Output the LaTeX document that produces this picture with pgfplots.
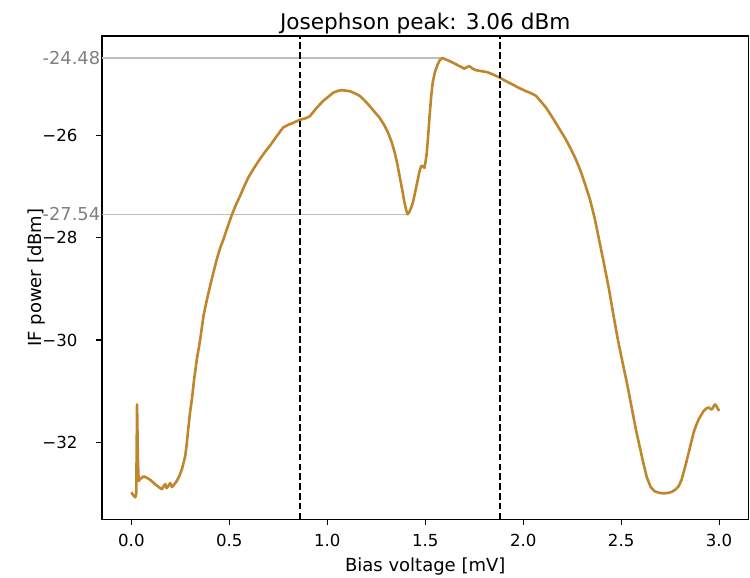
\documentclass[border=0pt]{standalone}
\usepackage{pgfplots}
\pgfplotsset{compat=1.18}
\usepackage{fontspec}
\setmainfont{DejaVu Sans}
\definecolor{curve}{RGB}{192,134,44}
\definecolor{hgray}{RGB}{190,190,190}
\definecolor{lgray}{RGB}{128,128,128}
\begin{document}
\begin{tikzpicture}
\begin{axis}[
  name=ax,
  scale only axis,
  width=323.25pt, height=241.65pt,
  xmin=-0.15, xmax=3.15,
  ymin=-33.51, ymax=-24.05,
  axis line style={line width=0.6pt},
  tick style={line width=0.6pt, black},
  tick align=outside,
  major tick length=2.75pt,
  xtick={0,0.5,1,1.5,2,2.5,3},
  xticklabels={0.0,0.5,1.0,1.5,2.0,2.5,3.0},
  ytick={-32,-30,-28,-26},
  yticklabels={−32,−30,−28,−26},
  extra y ticks={-24.48,-27.54},
  extra y tick labels={{\fontsize{8.9pt}{10pt}\selectfont -24.48\kern-11.35pt},{\fontsize{8.9pt}{10pt}\selectfont -27.54\kern-11.35pt}},
  extra y tick style={tick style={draw=none}, yticklabel style={text=lgray}},
  xtick pos=bottom, ytick pos=left,
  /pgf/number format/assume math mode=true,
  every tick label/.append style={font=\fontsize{8.3pt}{10pt}\selectfont},
  xticklabel style={anchor=base, yshift=-10.7pt},
  yticklabel style={anchor=east, inner sep=0pt, xshift=-9.35pt},
  title={Josephson peak: 3.06 dBm},
  title style={at={(axis description cs:0.5,1)}, anchor=base, inner sep=0pt, yshift=-3pt, font=\fontsize{10.8pt}{13pt}\selectfont},
  xlabel={Bias voltage [mV]},
  xlabel style={at={(axis description cs:0.5,-0.1084)}, anchor=base, font=\fontsize{9pt}{11pt}\selectfont},
  ylabel={IF power [dBm]},
  ylabel style={at={(axis description cs:-0.0933,0.5)}, anchor=base, rotate=0, font=\fontsize{9pt}{11pt}\selectfont},
]
\addplot[hgray, line width=0.7pt] coordinates {(-0.15,-24.48) (1.589,-24.48)};
\addplot[hgray, line width=0.7pt] coordinates {(-0.15,-27.54) (1.410,-27.54)};
\addplot[curve, line width=1.3pt, line join=round] coordinates {
(0.000,-32.98) (0.006,-33.02) (0.012,-33.05) (0.020,-33.08) (0.025,-33.00)
(0.029,-31.26) (0.033,-32.30) (0.037,-32.76) (0.045,-32.72) (0.063,-32.67)
(0.080,-32.70) (0.097,-32.74) (0.120,-32.82) (0.140,-32.88) (0.156,-32.92)
(0.165,-32.86) (0.173,-32.82) (0.180,-32.90) (0.190,-32.85) (0.198,-32.80)
(0.207,-32.88) (0.220,-32.82) (0.232,-32.76) (0.245,-32.66) (0.258,-32.53)
(0.268,-32.38) (0.275,-32.27) (0.283,-32.02) (0.290,-31.75) (0.300,-31.40)
(0.309,-31.16) (0.320,-30.78) (0.334,-30.38) (0.351,-30.00) (0.368,-29.53)
(0.385,-29.22) (0.402,-28.94) (0.420,-28.66) (0.436,-28.42) (0.453,-28.20)
(0.470,-28.03) (0.490,-27.80) (0.512,-27.56) (0.533,-27.36) (0.555,-27.18)
(0.575,-27.00) (0.597,-26.82) (0.625,-26.64) (0.656,-26.46) (0.680,-26.33)
(0.707,-26.20) (0.740,-26.02) (0.775,-25.84) (0.800,-25.79) (0.826,-25.75)
(0.860,-25.69) (0.890,-25.66) (0.911,-25.62) (0.945,-25.46) (0.979,-25.32)
(1.005,-25.24) (1.030,-25.16) (1.050,-25.13) (1.072,-25.11) (1.095,-25.12)
(1.115,-25.13) (1.140,-25.17) (1.165,-25.22) (1.190,-25.31) (1.216,-25.42)
(1.240,-25.53) (1.267,-25.65) (1.290,-25.79) (1.310,-25.94) (1.328,-26.12)
(1.344,-26.33) (1.357,-26.55) (1.369,-26.79) (1.382,-27.05) (1.394,-27.31)
(1.403,-27.46) (1.410,-27.54) (1.418,-27.50) (1.427,-27.42) (1.437,-27.31)
(1.450,-27.08) (1.462,-26.86) (1.472,-26.68) (1.480,-26.59) (1.488,-26.60)
(1.496,-26.63) (1.502,-26.50) (1.508,-26.33) (1.515,-26.00) (1.522,-25.62)
(1.530,-25.25) (1.538,-24.96) (1.550,-24.75) (1.564,-24.60) (1.575,-24.52)
(1.589,-24.48) (1.605,-24.51) (1.623,-24.54) (1.640,-24.57) (1.670,-24.63)
(1.700,-24.69) (1.712,-24.66) (1.725,-24.64) (1.742,-24.69) (1.759,-24.72)
(1.790,-24.74) (1.818,-24.76) (1.850,-24.81) (1.878,-24.86) (1.910,-24.93)
(1.946,-25.00) (1.980,-25.07) (2.014,-25.13) (2.040,-25.17) (2.065,-25.22)
(2.090,-25.33) (2.116,-25.45) (2.140,-25.59) (2.166,-25.75) (2.190,-25.90)
(2.217,-26.07) (2.243,-26.26) (2.268,-26.46) (2.295,-26.71) (2.319,-26.99)
(2.341,-27.25) (2.365,-27.62) (2.387,-28.03) (2.412,-28.50) (2.438,-29.01)
(2.460,-29.50) (2.483,-29.99) (2.506,-30.42) (2.529,-30.83) (2.552,-31.29)
(2.575,-31.75) (2.593,-32.06) (2.611,-32.37) (2.631,-32.69) (2.651,-32.88)
(2.670,-32.96) (2.692,-32.99) (2.710,-33.00) (2.726,-33.00) (2.745,-32.99)
(2.760,-32.97) (2.780,-32.92) (2.794,-32.86) (2.808,-32.74) (2.819,-32.59)
(2.832,-32.40) (2.845,-32.20) (2.858,-32.00) (2.870,-31.81) (2.883,-31.67)
(2.896,-31.55) (2.910,-31.46) (2.921,-31.39) (2.935,-31.34) (2.947,-31.32)
(2.955,-31.35) (2.963,-31.36) (2.972,-31.30) (2.980,-31.26) (2.990,-31.32)
(3.000,-31.39)
};
\addplot[black, line width=1.2pt, dash pattern=on 3.3pt off 1.6pt] coordinates {(0.86,-33.51) (0.86,-24.05)};
\addplot[black, line width=1.2pt, dash pattern=on 3.3pt off 1.6pt] coordinates {(1.881,-33.51) (1.881,-24.05)};
\end{axis}
\pgfresetboundingbox
\path[use as bounding box] ([xshift=-51pt,yshift=-29.35pt]ax.south west) rectangle ([xshift=0.75pt,yshift=18pt]ax.north east);
\end{tikzpicture}
\end{document}
